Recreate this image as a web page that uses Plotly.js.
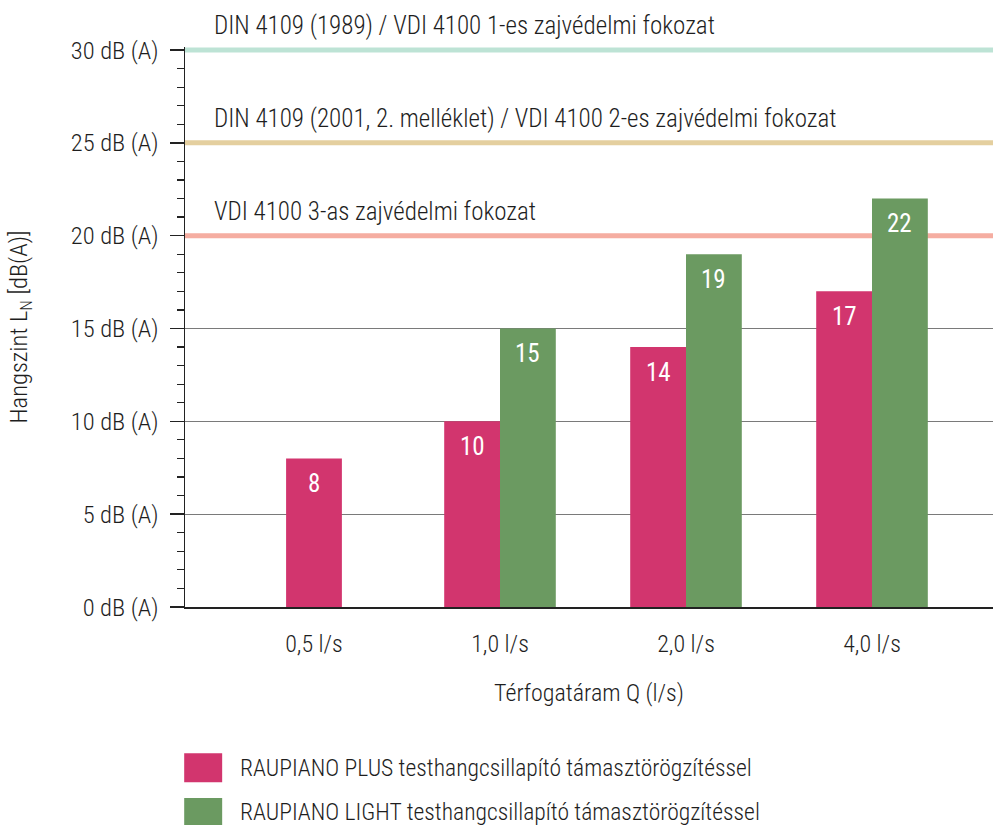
<!DOCTYPE html>
<html>
<head>
<meta charset="utf-8">
<script src="https://cdn.plot.ly/plotly-3.0.1.min.js"></script>
<style>
html,body{margin:0;padding:0;background:#fff;}
#chart{width:993px;height:825px;}
</style>
</head>
<body>
<div id="chart"></div>
<script>
const categories = ['0,5 l/s', '1,0 l/s', '2,0 l/s', '4,0 l/s'];
const plusValues = [8, 10, 14, 17];
const lightValues = [null, 15, 19, 22];
const seriesNames = [
  'RAUPIANO PLUS testhangcsillapító támasztörögzítéssel',
  'RAUPIANO LIGHT testhangcsillapító támasztörögzítéssel'
];
const seriesColors = ['#d2356e', '#6b9a61'];
const refLevels = [30, 25, 20];
const refLabels = [
  'DIN 4109 (1989) / VDI 4100 1-es zajvédelmi fokozat',
  'DIN 4109 (2001, 2. melléklet) / VDI 4100 2-es zajvédelmi fokozat',
  'VDI 4100 3-as zajvédelmi fokozat'
];
const refColors = ['#bde3d5', '#e4cf9f', '#f5ada1'];
const yTickVals = [0, 5, 10, 15, 20, 25, 30];
const yTickText = yTickVals.map(v => v + ' dB (A)');

const FONT = '"Roboto Condensed", "Liberation Sans Narrow", "Arial Narrow", Roboto, sans-serif';
const TXT = '#1e1e1e';
const W = 300;
const barW = 0.30;
const xRange = [-0.6935, 3.6505];

const plusOffsets = lightValues.map(v => v == null ? -barW / 2 : -barW);
const lightOffsets = lightValues.map(() => 0);

const traces = [
  {type: 'bar', x: categories, y: plusValues, name: seriesNames[0],
   marker: {color: seriesColors[0]}, width: barW, offset: plusOffsets,
   hoverinfo: 'y', showlegend: false},
  {type: 'bar', x: categories, y: lightValues, name: seriesNames[1],
   marker: {color: seriesColors[1]}, width: barW, offset: lightOffsets,
   hoverinfo: 'y', showlegend: false}
];

const annotations = [];
const shapes = [];

// value labels inside bars
[[plusValues, plusOffsets], [lightValues, lightOffsets]].forEach(([vals, offs]) => {
  vals.forEach((v, i) => {
    if (v == null) return;
    annotations.push({x: i + offs[i] + barW / 2, y: v, xref: 'x', yref: 'y',
      text: String(v), showarrow: false, yanchor: 'middle', yshift: -25,
      font: {family: FONT, size: 25, color: '#fff', weight: 400}});
  });
});

// reference levels
refLevels.forEach((lvl, i) => {
  shapes.push({type: 'line', xref: 'x', yref: 'y', x0: xRange[0], x1: xRange[1], y0: lvl, y1: lvl,
    line: {color: refColors[i], width: 5}, layer: 'between'});
  annotations.push({xref: 'paper', yref: 'y', x: 0.034, y: lvl, xanchor: 'left', yanchor: 'bottom',
    yshift: 8, text: refLabels[i], showarrow: false,
    font: {family: FONT, size: 25, color: TXT, weight: W}});
});

// custom legend
const legendRows = [{y0: -0.261, y1: -0.313, ty: -0.287}, {y0: -0.341, y1: -0.393, ty: -0.366}];
seriesNames.forEach((n, i) => {
  const r = legendRows[i];
  shapes.push({type: 'rect', xref: 'paper', yref: 'paper', x0: -0.001, x1: 0.046,
    y0: r.y0, y1: r.y1, fillcolor: seriesColors[i], line: {width: 0}});
  annotations.push({xref: 'paper', yref: 'paper', x: 0.065, y: r.ty, xanchor: 'left',
    yanchor: 'middle', text: n, showarrow: false,
    font: {family: FONT, size: 23.6, color: TXT, weight: W}});
});

const layout = {
  width: 993, height: 825,
  margin: {l: 185, r: 0, t: 47, b: 218, pad: 0},
  paper_bgcolor: '#fff', plot_bgcolor: '#fff',
  font: {family: FONT, size: 24, color: TXT, weight: W},
  barmode: 'overlay',
  showlegend: false,
  xaxis: {
    type: 'category', range: xRange, fixedrange: true,
    showgrid: false, zeroline: false, showline: true, linecolor: '#222', linewidth: 1.5,
    ticks: '', ticklabelstandoff: 15,
    tickfont: {family: FONT, size: 24, color: TXT, weight: W},
    title: {text: 'Térfogatáram Q (l/s)', font: {family: FONT, size: 24, color: TXT, weight: W}, standoff: 27}
  },
  yaxis: {
    range: [0, 30.16], fixedrange: true,
    tickvals: yTickVals, ticktext: yTickText,
    showgrid: true, gridcolor: '#7a7a7a', gridwidth: 1,
    zeroline: false, showline: true, linecolor: '#222', linewidth: 1.5,
    ticks: 'outside', ticklen: 14, tickcolor: '#222', tickwidth: 1.5,
    ticklabelstandoff: 6,
    minor: {dtick: 1, ticks: 'outside', ticklen: 7, tickcolor: '#222', tickwidth: 1.2, showgrid: false},
    tickfont: {family: FONT, size: 24.5, color: TXT, weight: W},
    title: {text: 'Hangszint L<sub>N</sub> [dB(A)]', font: {family: FONT, size: 24.5, color: TXT, weight: W}, standoff: 36}
  },
  annotations: annotations,
  shapes: shapes
};

Plotly.newPlot('chart', traces, layout, {displayModeBar: false, staticPlot: true});
</script>
</body>
</html>
